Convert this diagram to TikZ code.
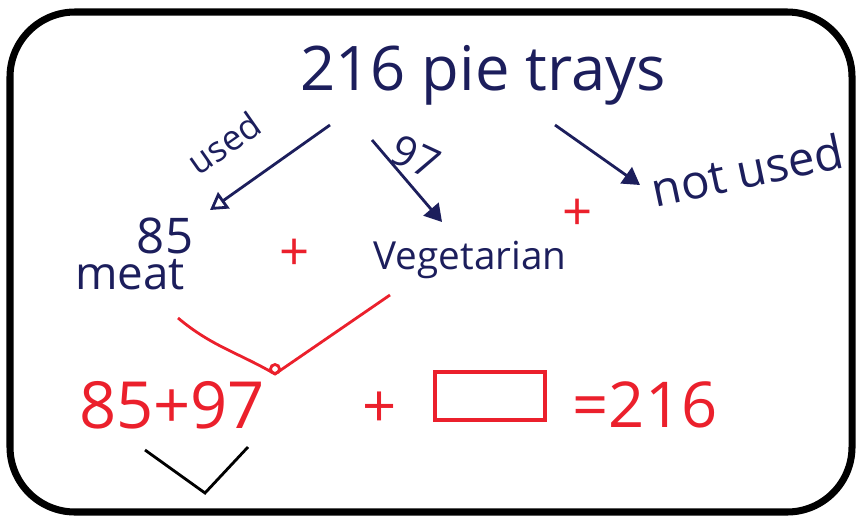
\documentclass[tikz,border=0pt]{standalone}
\usepackage{fontspec}
\setmainfont{Open Sans}
\usepackage{tikz}
\usetikzlibrary{arrows.meta}
\definecolor{inkBlue}{RGB}{28, 30, 92}
\definecolor{inkRed}{RGB}{235, 32, 44}

\begin{document}
\begin{tikzpicture}
    \useasboundingbox (0,0) rectangle (8.58,5.19);
    \draw[line width=2pt, rounded corners=0.65cm] (0.10,0.07) rectangle (8.52,5.07);
    % top line and the three parts
    \node[inkBlue] (title) at (4.83,4.44) {\fontsize{17.5}{21}\selectfont 216 pie trays};
    \node[inkBlue] (meatNum) at (1.65,2.83) {\fontsize{14}{17}\selectfont 85};
    \node[inkBlue] (meat) at (1.30,2.44) {\fontsize{13}{16}\selectfont meat};
    \node[inkBlue] (veg) at (4.70,2.59) {\fontsize{11}{14}\selectfont Vegetarian};
    \node[inkBlue, rotate=12] (notUsed) at (7.47,3.49) {\fontsize{13.5}{16}\selectfont not used};
    \coordinate (usedStart) at (3.30,3.94);
    \coordinate (usedEnd) at (2.10,3.09);
    \coordinate (vegStart) at (3.72,3.79);
    \coordinate (vegEnd) at (4.42,2.97);
    \coordinate (notStart) at (5.55,3.94);
    \coordinate (notEnd) at (6.40,3.34);
    \draw[thick, inkBlue, -{Triangle[open]}] (usedStart) -- (usedEnd);
    \draw[thick, inkBlue, -{Triangle}] (vegStart) -- (vegEnd);
    \draw[thick, inkBlue, -{Triangle}] (notStart) -- (notEnd);
    \node[inkBlue, rotate=35] (usedLbl) at (2.24,3.76) {\fontsize{10}{12}\selectfont used};
    \node[inkBlue, rotate=-25] (vegLbl) at (4.16,3.62) {\fontsize{12}{14}\selectfont 97};
    % red working
    \node[inkRed] (plusA) at (2.95,2.64) {\fontsize{15}{18}\selectfont +};
    \node[inkRed] (plusB) at (5.78,3.04) {\fontsize{15}{18}\selectfont +};
    \node[inkRed] (sum) at (1.72,1.14) {\fontsize{18.5}{22}\selectfont 85+97};
    \node[inkRed] (plusC) at (3.80,1.09) {\fontsize{17}{20}\selectfont +};
    \node[inkRed, draw, line width=1.2pt, minimum width=1.1cm, minimum height=0.48cm] (blank) at (4.90,1.23) {};
    \node[inkRed] (total) at (6.45,1.14) {\fontsize{18}{22}\selectfont =216};
    \coordinate (vLeft) at (1.78,2.01);
    \coordinate (vTip) at (2.75,1.45);
    \coordinate (vRight) at (3.90,2.24);
    \draw[thick, inkRed] (vLeft) to[out=-40,in=150] (vTip) -- (vRight);
    \draw[thick, inkRed] (vTip) ++(0,0.05) circle (0.045);
    % tick under the sum
    \coordinate (tickA) at (1.45,0.69);
    \coordinate (tickB) at (2.05,0.26);
    \coordinate (tickC) at (2.48,0.72);
    \draw[thick] (tickA) -- (tickB) -- (tickC);
\end{tikzpicture}
\end{document}
